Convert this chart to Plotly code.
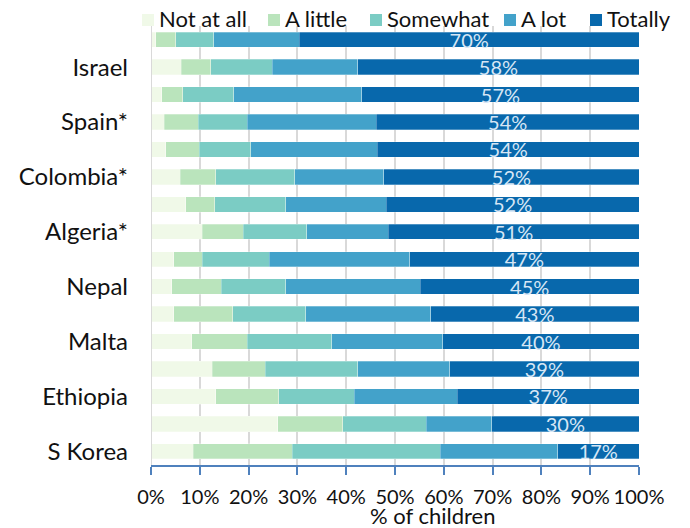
import plotly.graph_objects as go

# Rows listed top to bottom; only every other country is labelled on the axis
countries = ["", "Israel", "", "Spain*", "", "Colombia*", "", "Algeria*",
             "", "Nepal", "", "Malta", "", "Ethiopia", "", "S Korea"]

series_names = ["Not at all", "A little", "Somewhat", "A lot", "Totally"]
colors = ["#f0f9e8", "#bae4bc", "#7bccc4", "#43a2ca", "#0868ac"]

not_at_all = [1.0, 6.2, 2.2, 2.7, 3.0, 6.0, 7.1, 10.5, 4.7, 4.3, 4.7, 8.4, 12.6, 13.3, 26.0, 8.7]
a_little = [4.1, 6.0, 4.3, 7.0, 6.9, 7.3, 6.0, 8.4, 5.8, 10.1, 12.1, 11.3, 10.8, 12.9, 13.3, 20.2]
somewhat = [7.8, 12.6, 10.5, 10.0, 10.5, 16.2, 14.5, 13.0, 13.7, 13.2, 14.9, 17.3, 19.0, 15.4, 17.1, 30.4]
a_lot = [17.5, 17.6, 26.2, 26.5, 26.0, 18.2, 20.6, 16.7, 28.8, 27.6, 25.6, 22.8, 18.8, 21.2, 13.4, 24.0]
totally = [69.6, 57.6, 56.8, 53.8, 53.6, 52.3, 51.8, 51.4, 47.0, 44.8, 42.7, 40.2, 38.8, 37.2, 30.2, 16.7]

x_ticks = [0, 10, 20, 30, 40, 50, 60, 70, 80, 90, 100]

values = [not_at_all, a_little, somewhat, a_lot, totally]
n = len(countries)
ypos = list(range(n - 1, -1, -1))  # first row at the top

FONT = "Lato"

fig = go.Figure()
for name, col, vals in zip(series_names, colors, values):
    is_last = name == "Totally"
    fig.add_trace(go.Bar(
        name=name, orientation="h", x=vals, y=ypos,
        marker=dict(color=col, line=dict(color="rgba(255,255,255,0.35)", width=0.8)),
        text=[f"{round(v)}%" for v in vals] if is_last else None,
        textposition="inside" if is_last else "none",
        insidetextanchor="middle",
        constraintext="none",
        textfont=dict(family=FONT, size=20, color="#d6e6f5"),
        showlegend=False,
        hoverinfo="x+name",
    ))

# Legend drawn as coloured squares with labels above the plot
L, R, T, B = 151, 51, 26, 63
W, H = 690, 528
pw, ph = W - L - R, H - T - B
legend_px = [142, 268, 370, 504, 590]
for name, col, px in zip(series_names, colors, legend_px):
    x0 = (px - L) / pw
    x1 = (px + 12 - L) / pw
    fig.add_shape(type="rect", xref="paper", yref="paper",
                  x0=x0, x1=x1, y0=(H - B - 26) / ph, y1=(H - B - 14) / ph,
                  fillcolor=col, line=dict(width=0))
    fig.add_annotation(xref="paper", yref="paper", x=(px + 16 - L) / pw,
                       y=(H - B - 19) / ph, text=name, showarrow=False,
                       xanchor="left", yanchor="middle", borderpad=0,
                       font=dict(family=FONT, size=22, color="#111111"))

# x-axis title, set a little right of centre under the tick labels
fig.add_annotation(xref="paper", yref="paper", x=(432 - L) / pw,
                   y=-(515 - (H - B)) / ph, text="% of children", showarrow=False,
                   xanchor="center", yanchor="middle", borderpad=0,
                   font=dict(family=FONT, size=22, color="#111111"))

tick_rows = [p for p, c in zip(ypos, countries) if c]
tick_text = [c for c in countries if c]

fig.update_layout(
    barmode="stack",
    bargap=0.44,
    width=W, height=H,
    margin=dict(l=L, r=R, t=T, b=B, pad=0),
    paper_bgcolor="white", plot_bgcolor="white",
    font=dict(family=FONT, color="#111111"),
    xaxis=dict(
        range=[0, 100], tickvals=x_ticks, ticktext=[f"{t}%" for t in x_ticks],
        showgrid=True, gridcolor="#d9d9d9", gridwidth=2,
        showline=True, linecolor="#4f81bd", linewidth=1.5,
        ticks="outside", tickcolor="#4f81bd", ticklen=8, tickwidth=1.5,
        ticklabelstandoff=5,
        tickfont=dict(family=FONT, size=20, color="#111111"),
        zeroline=False, fixedrange=True,
    ),
    yaxis=dict(
        range=[-0.5, n - 0.5], tickvals=tick_rows, ticktext=tick_text,
        showgrid=False, zeroline=False,
        showline=False, ticks="", ticklabelstandoff=22,
        tickfont=dict(family=FONT, size=24, color="#111111"),
        fixedrange=True,
    ),
)
# light grey vertical baseline at 0%
fig.add_shape(type="line", xref="x", yref="paper", x0=0, x1=0, y0=0, y1=1,
              line=dict(color="#d9d9d9", width=2))

fig.write_html("out.html")
